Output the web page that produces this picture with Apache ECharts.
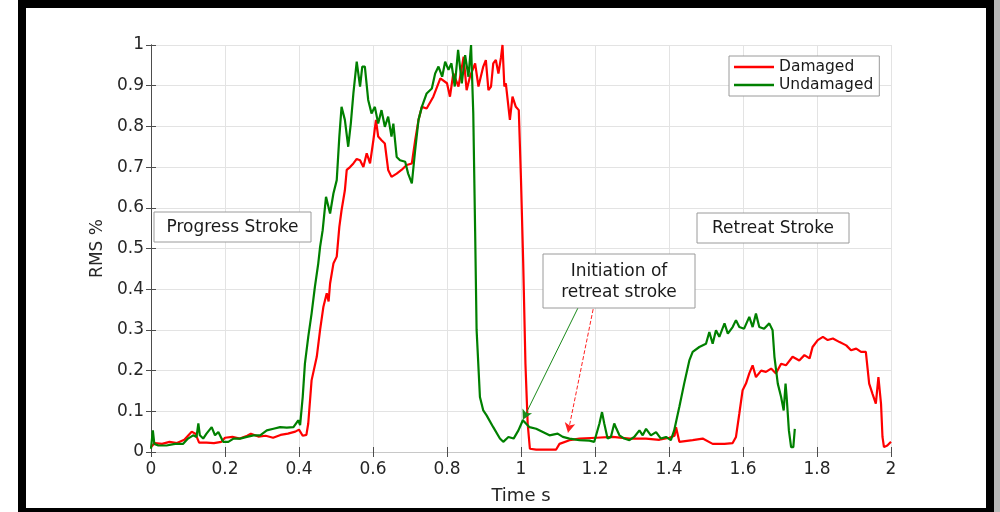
<!DOCTYPE html>
<html>
<head>
<meta charset="utf-8">
<script src="https://cdn.jsdelivr.net/npm/echarts@6/dist/echarts.min.js"></script>
<style>html,body{margin:0;padding:0;background:#fff;}#c{width:1000px;height:512px;}</style>
</head>
<body>
<div id="c"></div>
<script>
const xTicks = [0, 0.2, 0.4, 0.6, 0.8, 1, 1.2, 1.4, 1.6, 1.8, 2];
const yTicks = [0, 0.1, 0.2, 0.3, 0.4, 0.5, 0.6, 0.7, 0.8, 0.9, 1];
const seriesNames = ['Damaged', 'Undamaged'];
const annotations = ['Progress Stroke', 'Retreat Stroke', 'Initiation of\nretreat stroke'];

const damaged = [[0,0.012],[0.01,0.022],[0.03,0.02],[0.05,0.025],[0.07,0.022],[0.09,0.03],[0.1,0.04],[0.11,0.05],[0.12,0.045],[0.13,0.023],[0.15,0.023],[0.17,0.022],[0.19,0.025],[0.2,0.035],[0.22,0.037],[0.24,0.033],[0.26,0.04],[0.27,0.045],[0.29,0.038],[0.31,0.04],[0.33,0.035],[0.35,0.042],[0.37,0.045],[0.39,0.05],[0.4,0.055],[0.41,0.04],[0.42,0.042],[0.425,0.07],[0.434,0.176],[0.448,0.234],[0.457,0.3],[0.466,0.357],[0.475,0.39],[0.48,0.37],[0.484,0.414],[0.493,0.463],[0.502,0.48],[0.509,0.553],[0.515,0.594],[0.524,0.643],[0.529,0.693],[0.538,0.70],[0.547,0.709],[0.556,0.72],[0.565,0.717],[0.574,0.70],[0.583,0.734],[0.592,0.709],[0.601,0.766],[0.608,0.816],[0.614,0.775],[0.623,0.766],[0.632,0.758],[0.641,0.693],[0.65,0.676],[0.664,0.684],[0.677,0.693],[0.691,0.705],[0.705,0.709],[0.714,0.766],[0.723,0.816],[0.732,0.848],[0.745,0.844],[0.763,0.873],[0.782,0.918],[0.8,0.906],[0.808,0.873],[0.817,0.93],[0.831,0.898],[0.845,0.971],[0.853,0.889],[0.862,0.922],[0.876,0.955],[0.885,0.898],[0.898,0.947],[0.905,0.963],[0.912,0.889],[0.919,0.898],[0.925,0.955],[0.932,0.963],[0.939,0.93],[0.946,0.97],[0.95,1.0],[0.955,0.898],[0.959,0.906],[0.97,0.816],[0.977,0.873],[0.986,0.848],[0.994,0.84],[1.0,0.668],[1.006,0.463],[1.012,0.217],[1.018,0.07],[1.024,0.008],[1.041,0.006],[1.07,0.006],[1.095,0.006],[1.104,0.02],[1.131,0.029],[1.158,0.033],[1.203,0.035],[1.248,0.037],[1.293,0.033],[1.338,0.033],[1.374,0.03],[1.401,0.035],[1.415,0.04],[1.419,0.061],[1.428,0.025],[1.464,0.029],[1.491,0.033],[1.518,0.02],[1.55,0.02],[1.572,0.022],[1.581,0.037],[1.59,0.094],[1.599,0.152],[1.608,0.168],[1.617,0.193],[1.626,0.213],[1.635,0.184],[1.649,0.2],[1.662,0.197],[1.676,0.205],[1.689,0.193],[1.703,0.217],[1.716,0.213],[1.734,0.234],[1.752,0.225],[1.766,0.238],[1.78,0.23],[1.788,0.258],[1.802,0.275],[1.816,0.283],[1.829,0.275],[1.843,0.279],[1.861,0.27],[1.879,0.262],[1.892,0.25],[1.906,0.254],[1.919,0.246],[1.932,0.246],[1.941,0.168],[1.95,0.143],[1.959,0.119],[1.966,0.184],[1.973,0.119],[1.977,0.037],[1.981,0.012],[1.99,0.016],[2.0,0.025]];

const undamaged = [[0,0.008],[0.005,0.053],[0.009,0.02],[0.02,0.016],[0.042,0.016],[0.065,0.02],[0.087,0.02],[0.1,0.033],[0.114,0.041],[0.123,0.037],[0.128,0.07],[0.132,0.041],[0.141,0.033],[0.15,0.045],[0.164,0.061],[0.173,0.041],[0.182,0.049],[0.195,0.025],[0.209,0.025],[0.223,0.033],[0.241,0.033],[0.259,0.037],[0.277,0.041],[0.295,0.041],[0.313,0.053],[0.331,0.057],[0.349,0.061],[0.367,0.06],[0.385,0.061],[0.398,0.078],[0.403,0.066],[0.41,0.135],[0.416,0.217],[0.425,0.283],[0.434,0.34],[0.443,0.406],[0.452,0.463],[0.457,0.504],[0.464,0.545],[0.473,0.627],[0.484,0.586],[0.493,0.635],[0.502,0.668],[0.509,0.775],[0.515,0.848],[0.524,0.816],[0.533,0.75],[0.54,0.807],[0.547,0.881],[0.556,0.959],[0.565,0.898],[0.571,0.947],[0.578,0.947],[0.587,0.865],[0.596,0.832],[0.605,0.848],[0.614,0.807],[0.623,0.84],[0.632,0.799],[0.641,0.824],[0.65,0.775],[0.655,0.807],[0.664,0.725],[0.673,0.717],[0.687,0.713],[0.695,0.684],[0.705,0.66],[0.714,0.742],[0.723,0.816],[0.732,0.848],[0.745,0.881],[0.759,0.893],[0.768,0.93],[0.777,0.947],[0.787,0.922],[0.795,0.959],[0.804,0.939],[0.812,0.955],[0.821,0.898],[0.83,0.988],[0.84,0.906],[0.849,0.975],[0.858,0.922],[0.865,1.0],[0.871,0.832],[0.876,0.545],[0.88,0.3],[0.889,0.135],[0.898,0.102],[0.907,0.09],[0.925,0.061],[0.943,0.033],[0.952,0.025],[0.966,0.037],[0.98,0.033],[0.993,0.053],[1.005,0.078],[1.023,0.061],[1.041,0.057],[1.059,0.049],[1.077,0.041],[1.099,0.045],[1.113,0.037],[1.131,0.033],[1.158,0.029],[1.185,0.028],[1.198,0.025],[1.212,0.07],[1.219,0.098],[1.225,0.07],[1.234,0.033],[1.243,0.037],[1.252,0.07],[1.258,0.057],[1.266,0.041],[1.279,0.033],[1.293,0.029],[1.306,0.037],[1.32,0.053],[1.329,0.041],[1.338,0.057],[1.351,0.041],[1.365,0.049],[1.378,0.033],[1.392,0.037],[1.405,0.029],[1.414,0.053],[1.428,0.111],[1.441,0.168],[1.455,0.225],[1.464,0.246],[1.482,0.258],[1.5,0.266],[1.509,0.295],[1.518,0.266],[1.527,0.299],[1.536,0.283],[1.55,0.316],[1.559,0.291],[1.572,0.307],[1.581,0.324],[1.59,0.307],[1.603,0.303],[1.617,0.332],[1.626,0.307],[1.635,0.34],[1.644,0.307],[1.657,0.303],[1.671,0.316],[1.68,0.299],[1.685,0.234],[1.694,0.168],[1.703,0.135],[1.71,0.102],[1.715,0.168],[1.718,0.135],[1.724,0.053],[1.73,0.012],[1.736,0.012],[1.74,0.057]];

const greenArrow = [[1.154, 0.354], [1.005, 0.079]];
const redArrow = [[1.195, 0.351], [1.127, 0.047]];

const chart = echarts.init(document.getElementById('c'));
const FONT = '"DejaVu Sans", "Liberation Sans", sans-serif';
const TXT = '#262626';
const GRID = {left: 151, right: 109, top: 45, bottom: 60};
const plotWidth = 1000 - GRID.left - GRID.right;

function box(x, y, w, h, text) {
  return {
    type: 'group',
    children: [
      {type: 'rect', z: 50, shape: {x: x, y: y, width: w, height: h}, style: {fill: '#fff', stroke: '#9a9a9a', lineWidth: 1}},
      {type: 'text', z: 51, style: {text: text, x: x + w / 2, y: y + h / 2 + 1, align: 'center', verticalAlign: 'middle', font: '17px ' + FONT, fill: '#1a1a1a', lineHeight: 21}}
    ]
  };
}

const commonAxis = {min: 0, max: 2, interval: 0.2};
const yRange = {min: 0, max: 1, interval: 0.1};
chart.setOption({
  backgroundColor: '#fff',
  animation: false,
  grid: GRID,
  legend: {
    data: seriesNames, orient: 'vertical', left: 729, top: 56,
    icon: 'rect', itemWidth: 40, itemHeight: 2.5, itemGap: 0,
    padding: [2, 6, 2, 5],
    backgroundColor: '#fff', borderColor: '#9a9a9a', borderWidth: 1,
    textStyle: {fontSize: 15.5, lineHeight: 18, fontFamily: FONT, color: '#1a1a1a'}
  },
  xAxis: [
    Object.assign({type: 'value', name: 'Time s', nameLocation: 'middle', nameGap: 35,
      nameTextStyle: {fontSize: 18, fontFamily: FONT, color: TXT},
      axisLine: {show: true, lineStyle: {color: '#4d4d4d', width: 1}},
      axisTick: {show: true, inside: true, length: 5, lineStyle: {color: '#4d4d4d'}},
      axisLabel: {fontSize: 17, fontFamily: FONT, color: TXT, margin: 9, formatter: v => String(+v.toFixed(1))},
      splitLine: {show: true, lineStyle: {color: '#e3e3e3', width: 1}}}, commonAxis),
    Object.assign({type: 'value', position: 'top',
      axisLine: {show: true, lineStyle: {color: '#c8c8c8', width: 1}},
      axisTick: {show: true, inside: true, length: 5, lineStyle: {color: '#4d4d4d'}},
      axisLabel: {show: false}, splitLine: {show: false}}, commonAxis)
  ],
  yAxis: [
    Object.assign({type: 'value', name: 'RMS %', nameLocation: 'middle', nameGap: 44, nameRotate: 90,
      nameTextStyle: {fontSize: 17, fontFamily: FONT, color: TXT},
      axisLine: {show: true, lineStyle: {color: '#4d4d4d', width: 1}},
      axisTick: {show: false},
      axisLabel: {fontSize: 17, fontFamily: FONT, color: TXT, margin: 7, formatter: v => String(+v.toFixed(1))},
      splitLine: {show: true, lineStyle: {color: '#e3e3e3', width: 1}}}, yRange),
    Object.assign({type: 'value', position: 'right',
      axisLine: {show: true, lineStyle: {color: '#4d4d4d', width: 1}},
      axisTick: {show: true, inside: true, length: 5, lineStyle: {color: '#4d4d4d'}},
      axisLabel: {show: false}, splitLine: {show: false}}, yRange),
    Object.assign({type: 'value', position: 'right', offset: -plotWidth,
      axisLine: {show: false},
      axisTick: {show: true, inside: false, length: 5, lineStyle: {color: '#4d4d4d'}},
      axisLabel: {show: false}, splitLine: {show: false}}, yRange)
  ],
  series: [
    {name: seriesNames[0], type: 'line', data: damaged, symbol: 'none', color: '#ff0000',
      lineStyle: {width: 2.2, color: '#ff0000'}, z: 3,
      markLine: {silent: true, symbol: ['none', 'arrow'], symbolSize: [8, 10], label: {show: false},
        lineStyle: {color: '#ff2020', width: 1, type: [4, 2]},
        data: [[{coord: redArrow[0]}, {coord: redArrow[1]}]]}},
    {name: seriesNames[1], type: 'line', data: undamaged, symbol: 'none', color: '#008000',
      lineStyle: {width: 2.2, color: '#008000'}, z: 4,
      markLine: {silent: true, symbol: ['none', 'arrow'], symbolSize: [8, 10], label: {show: false},
        lineStyle: {color: '#1a8a1a', width: 1, type: 'solid'},
        data: [[{coord: greenArrow[0]}, {coord: greenArrow[1]}]]}}
  ],
  graphic: [
    box(154, 212, 157, 30, annotations[0]),
    box(697, 213, 152, 30, annotations[1]),
    box(543, 254, 152, 54, annotations[2]),
    {type: 'rect', z: 100, shape: {x: 994, y: 0, width: 6, height: 512}, style: {fill: '#b8b8b8'}},
    {type: 'rect', z: 101, shape: {x: 22, y: 4, width: 968, height: 508}, style: {fill: 'none', stroke: '#000', lineWidth: 8}}
  ]
});
</script>
</body>
</html>
